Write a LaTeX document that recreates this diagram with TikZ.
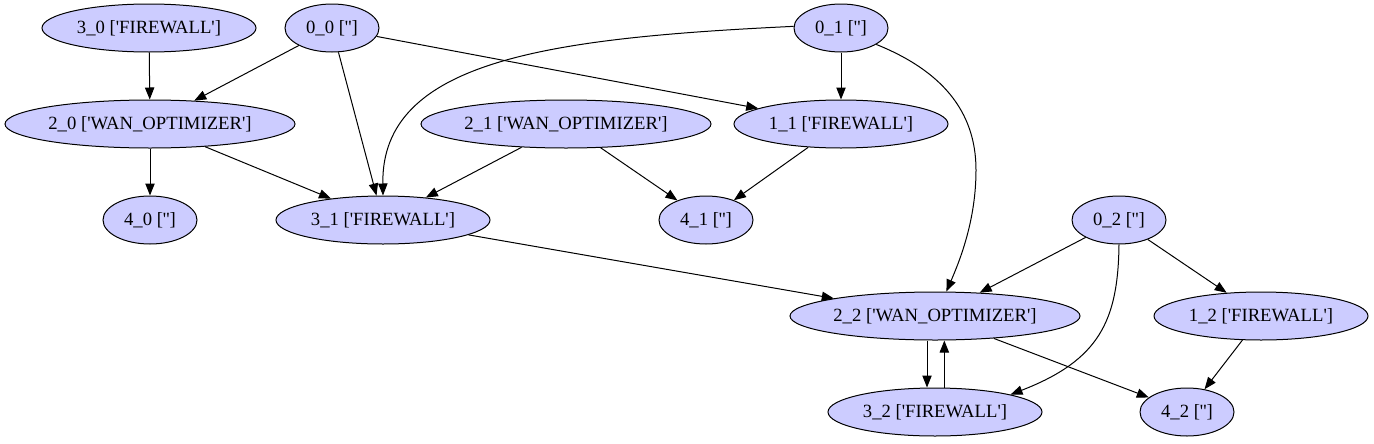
\documentclass[tikz,border=0pt]{standalone}
\usepackage{fontspec}
\setmainfont{Liberation Serif}[Ligatures=TeXOff]
\usetikzlibrary{arrows.meta,shapes.geometric}
\definecolor{nodefill}{RGB}{204,204,255}
\tikzset{
  gnode/.style={ellipse,draw=black,fill=nodefill,line width=0.75pt,inner sep=0pt,
    minimum height=36pt,font=\fontsize{14pt}{16pt}\selectfont},
  wsmall/.style={gnode,minimum width=70.5pt},
  wmid/.style={gnode,minimum width=160.5pt},
  wbig/.style={gnode,minimum width=217.5pt},
  arr/.style={line width=0.75pt,-{Triangle[length=9pt,width=7pt]}}
}
\begin{document}
\begin{tikzpicture}[x=0.75pt,y=-0.75pt]
\useasboundingbox (0,0) rectangle (1374,443);
% row 1
\node[wmid]   (n30) at (149,28)  {3\_0 ['FIREWALL']};
\node[wsmall] (n00) at (332,28)  {0\_0 ['']};
\node[wsmall] (n01) at (841,28)  {0\_1 ['']};
% row 2
\node[wbig]   (n20) at (150,124) {2\_0 ['WAN\_OPTIMIZER']};
\node[wbig]   (n21) at (566,124) {2\_1 ['WAN\_OPTIMIZER']};
\node[wmid]   (n11) at (841,124) {1\_1 ['FIREWALL']};
% row 3
\node[wsmall] (n40) at (150,220) {4\_0 ['']};
\node[wmid]   (n31) at (383,220) {3\_1 ['FIREWALL']};
\node[wsmall] (n41) at (706,220) {4\_1 ['']};
\node[wsmall] (n02) at (1119,220) {0\_2 ['']};
% row 4
\node[wbig]   (n22) at (935,316) {2\_2 ['WAN\_OPTIMIZER']};
\node[wmid]   (n12) at (1261,316) {1\_2 ['FIREWALL']};
% row 5
\node[wmid]   (n32) at (935,412) {3\_2 ['FIREWALL']};
\node[wsmall] (n42) at (1187,412) {4\_2 ['']};
% edges
\draw[arr] (n30) -- (n20);
\draw[arr] (n00) -- (n20);
\draw[arr] (n00) -- (n31);
\draw[arr] (n00) -- (n11);
\draw[arr] (n01.178) .. controls (550,38) and (381,60) .. (n31.north);
\draw[arr] (n01) -- (n11);
\draw[arr] (n01.-25) .. controls (940,70) and (976,110) .. (976,170)
           .. controls (976,220) and (960,260) .. (n22.65);
\draw[arr] (n20) -- (n40);
\draw[arr] (n20) -- (n31);
\draw[arr] (n21) -- (n31);
\draw[arr] (n21) -- (n41);
\draw[arr] (n11) -- (n41);
\draw[arr] (n31) -- (n22);
\draw[arr] (n02) -- (n22);
\draw[arr] (n02) -- (n12);
\draw[arr] (n02.south) .. controls (1118,320) and (1100,360) .. (n32.13);
\draw[arr] ([xshift=-6pt]n22.south) -- ([xshift=-6pt]n32.north);
\draw[arr] ([xshift=7pt]n32.north) -- ([xshift=7pt]n22.south);
\draw[arr] (n22) -- (n42);
\draw[arr] (n12) -- (n42);
\end{tikzpicture}
\end{document}
